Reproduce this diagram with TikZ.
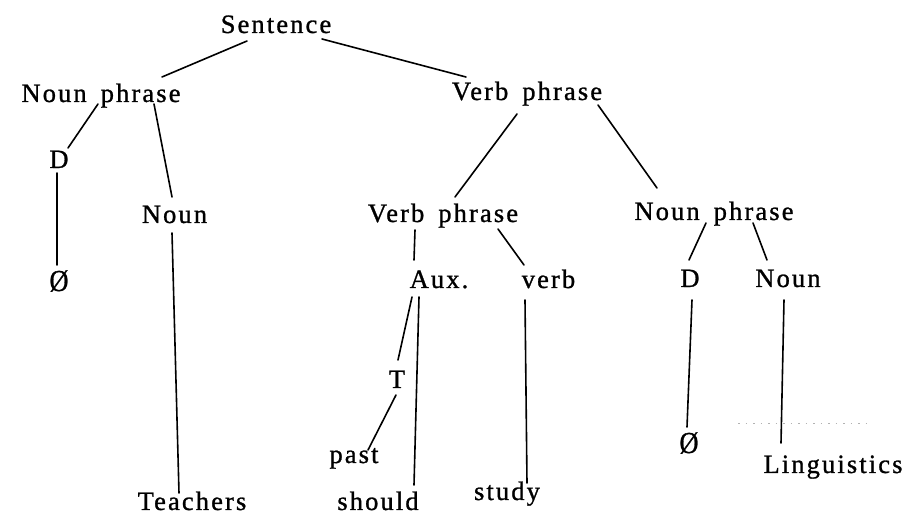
\documentclass[tikz,border=0pt]{standalone}
\usepackage{fontspec}
\setmainfont{Liberation Serif}[LetterSpace=8,FakeBold=1]
\usetikzlibrary{calc}
\tikzset{
  lbl/.style={anchor=base, inner sep=0pt, font=\fontsize{26.5pt}{30pt}\selectfont},
  edge/.style={line width=1.6pt, line cap=round},
}
\newcommand{\gap}{\hspace{14pt}}
\begin{document}
\begin{tikzpicture}[x=1pt,y=-1pt]
\useasboundingbox (0,0) rectangle (911,518);
% nodes (base anchors)
\node[lbl] (s)    at (276,33)  {Sentence};
\node[lbl] (np1)  at (101,102) {Noun\gap phrase};
\node[lbl] (vp1)  at (527,100) {Verb\gap phrase};
\node[lbl] (d1)   at (59,168)  {D};
\node[lbl] (n1)   at (174.5,223) {Noun};
\node[lbl] (vp2)  at (443,222) {Verb\gap phrase};
\node[lbl] (np2)  at (714,220) {Noun\gap phrase};
\node[lbl] (z1)   at (59,291)  {\scalebox{1}[1.15]{\O}};
\node[lbl] (t1)   at (192,510) {Teachers};
\node[lbl] (aux)  at (439,288) {Aux.};
\node[lbl] (vb)   at (548.5,288) {verb};
\node[lbl] (d2)   at (690,287) {D};
\node[lbl] (n2)   at (788,287) {Noun};
\node[lbl] (tt)   at (397,388) {T};
\node[lbl] (past) at (354,463) {past};
\node[lbl] (sh)   at (378,510) {should};
\node[lbl] (st)   at (507,500) {study};
\node[lbl] (z2)   at (689,453) {\scalebox{1}[1.15]{\O}};
\node[lbl] (ling) at (833,473) {Linguistics};
% connectors
\draw[edge] ($(s.base)+(-29,8)$)    -- ($(np1.base)+(61,-25)$);
\draw[edge] ($(s.base)+(46,6)$)     -- ($(vp1.base)+(-61,-23)$);
\draw[edge] ($(np1.base)+(-3,2)$)   -- ($(d1.base)+(9,-20)$);
\draw[edge] ($(np1.base)+(53,2)$)   -- ($(n1.base)+(-2.5,-26)$);
\draw[edge] ($(d1.base)+(-2,5)$)    -- ($(z1.base)+(-2,-26)$);
\draw[edge] ($(n1.base)+(-2.5,10)$) -- ($(t1.base)+(-13,-17)$);
\draw[edge] ($(vp1.base)+(-10,14)$) -- ($(vp2.base)+(12,-25)$);
\draw[edge] ($(vp1.base)+(71,5)$)   -- ($(np2.base)+(-57,-32)$);
\draw[edge] ($(vp2.base)+(-28,8)$)  -- ($(aux.base)+(-25,-28)$);
\draw[edge] ($(vp2.base)+(55,7)$)   -- ($(vb.base)+(-24.5,-23)$);
\draw[edge] ($(np2.base)+(-8,3)$)   -- ($(d2.base)+(-1,-27)$);
\draw[edge] ($(np2.base)+(39,3)$)   -- ($(n2.base)+(-21,-27)$);
\draw[edge] ($(aux.base)+(-27,9)$)  -- ($(tt.base)+(1,-28)$);
\draw[edge] ($(tt.base)+(-1,7)$)    -- ($(past.base)+(14,-13)$);
\draw[edge] ($(aux.base)+(-20,9)$)  -- ($(sh.base)+(36,-25)$);
\draw[edge] ($(vb.base)+(-23.5,12)$) -- ($(st.base)+(20,-17)$);
\draw[edge] ($(d2.base)+(2,13)$)    -- ($(z2.base)+(-2,-26)$);
\draw[edge] ($(n2.base)+(-4,13)$)   -- ($(ling.base)+(-52,-30)$);
% faint dotted scan mark
\coordinate (dotA) at (738,424);
\coordinate (dotB) at (873,424);
\draw[gray!60, line width=1pt, dash pattern=on 1.5pt off 6pt] (dotA) -- (dotB);
\end{tikzpicture}
\end{document}
